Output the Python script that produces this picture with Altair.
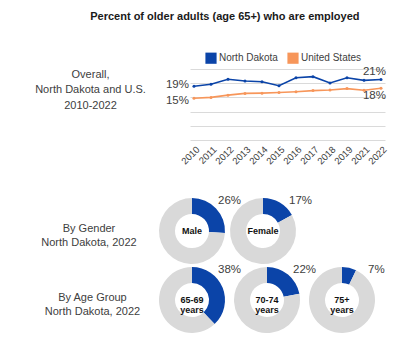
import altair as alt
import pandas as pd

# ---------------- data ----------------
years = ["2010", "2011", "2012", "2013", "2014", "2015", "2016", "2017",
         "2018", "2019", "2021", "2022"]
nd_vals = [18.9, 19.6, 21.4, 20.8, 20.5, 19.1, 21.9, 22.3, 20.1, 21.9, 21.0, 21.3]
us_vals = [14.7, 15.0, 15.8, 16.4, 16.5, 16.7, 17.0, 17.4, 17.6, 18.1, 17.5, 18.2]
series_names = ["North Dakota", "United States"]

gender_cats = ["Male", "Female"]
gender_pct = [26, 17]
age_cats = ["65-69\nyears", "70-74\nyears", "75+\nyears"]
age_pct = [38, 22, 7]

title_text = "Percent of older adults (age 65+) who are employed"
row_labels = ["Overall,\nNorth Dakota and U.S.\n2010-2022",
              "By Gender\nNorth Dakota, 2022",
              "By Age Group\nNorth Dakota, 2022"]

BLUE = "#0b44a8"
ORANGE = "#f7965a"
GRAY = "#d9d9d9"
TXT = "#404040"
FONT = "Liberation Sans"

# ---------------- line chart ----------------
line_df = pd.DataFrame({
    "year": years * 2,
    "value": nd_vals + us_vals,
    "series": [series_names[0]] * len(years) + [series_names[1]] * len(years),
})

xenc = alt.X("year:O", scale=alt.Scale(type="point", padding=0.235),
             axis=alt.Axis(title=None, labelAngle=-45, labelFontSize=9.5,
                           labelColor=TXT, ticks=False, domain=False,
                           grid=False, labelPadding=4))
yenc = alt.Y("value:Q", scale=alt.Scale(domain=[0, 25], nice=False, zero=True),
             axis=alt.Axis(title=None, values=[0, 5, 10, 15, 20, 25], labels=False,
                           ticks=False, domain=False, gridColor="#dadada"))
cenc = alt.Color("series:N", scale=alt.Scale(domain=series_names, range=[BLUE, ORANGE]),
                 legend=alt.Legend(title=None, orient="none", direction="horizontal",
                                   legendX=15, legendY=-17, symbolType="square",
                                   symbolSize=125, symbolStrokeWidth=0,
                                   labelFontSize=10, labelColor=TXT, labelOffset=2,
                                   columnPadding=9, padding=0))

points = alt.Chart(line_df).mark_point(filled=True, size=9, opacity=1).encode(
    x=xenc, y=yenc, color=cenc)
lines = alt.Chart(line_df).mark_line(strokeWidth=1.6).encode(
    x=xenc, y=yenc, color=cenc)


def end_label(series_idx, year_idx, align, dx, dy):
    vals = [nd_vals, us_vals][series_idx]
    d = pd.DataFrame({"year": [years[year_idx]], "value": [vals[year_idx]],
                      "lab": [f"{round(vals[year_idx])}%"]})
    return alt.Chart(d).mark_text(align=align, dx=dx, dy=dy, fontSize=11.5,
                                  color=TXT, baseline="middle").encode(
        x=xenc, y=yenc, text="lab:N")


line_chart = alt.layer(
    points, lines,
    end_label(0, 0, "right", -5, -1),
    end_label(1, 0, "right", -5, 3),
    end_label(0, len(years) - 1, "right", 5, -8),
    end_label(1, len(years) - 1, "right", 5, 8),
).properties(width=195, height=71)


# ---------------- donuts ----------------
def donut(cat, pct):
    df = pd.DataFrame({"part": ["yes", "no"], "value": [pct, 100 - pct], "ord": [0, 1]})
    arc = alt.Chart(df).mark_arc(innerRadius=17, outerRadius=33).encode(
        theta=alt.Theta("value:Q", stack=True),
        fill=alt.Fill("part:N", scale=alt.Scale(domain=["yes", "no"], range=[BLUE, GRAY]),
                      legend=None),
        order=alt.Order("ord:Q"))
    center = alt.Chart(pd.DataFrame({"t": [cat]})).mark_text(
        fontWeight="bold", fontSize=9, lineBreak="\n", lineHeight=10,
        color="#111111", baseline="middle").encode(text="t:N")
    pct_lab = alt.Chart(pd.DataFrame({"t": [f"{pct}%"]})).mark_text(
        align="left", dx=26, dy=-30, fontSize=11.5, color=TXT,
        baseline="middle").encode(text="t:N")
    return alt.layer(arc, center, pct_lab).properties(width=66, height=66)


def label_panel(text, w, h, lh, dx, dy):
    return alt.Chart(pd.DataFrame({"t": [text]})).mark_text(
        lineBreak="\n", fontSize=11, lineHeight=lh, color=TXT, align="center",
        baseline="middle", dx=dx, dy=dy).encode(text="t:N").properties(width=w, height=h)


row1 = alt.hconcat(label_panel(row_labels[0], 165, 71, 15.3, 0, -29.5), line_chart,
                   spacing=17, bounds="flush").resolve_scale(
    color="independent").resolve_legend(color="independent")
row2 = alt.hconcat(label_panel(row_labels[1], 146, 66, 14.4, 8, -2),
                   *[donut(c, p) for c, p in zip(gender_cats, gender_pct)],
                   spacing=5, bounds="flush")
row3 = alt.hconcat(label_panel(row_labels[2], 142, 66, 14.4, 13.5, -2),
                   *[donut(c, p) for c, p in zip(age_cats, age_pct)],
                   spacing=9, bounds="flush")
bottom = alt.vconcat(row2, row3, spacing=0)

chart = alt.vconcat(row1, bottom, spacing=29).properties(
    title=alt.TitleParams(title_text, fontSize=11, fontWeight="bold", color="#1a1a1a",
                          anchor="middle", dx=27, offset=30, font=FONT),
    padding={"left": 0, "top": 3, "right": 0, "bottom": 0},
).configure(font=FONT).configure_view(stroke=None)

chart.save("out.html", embed_options={"renderer": "svg", "actions": False})
